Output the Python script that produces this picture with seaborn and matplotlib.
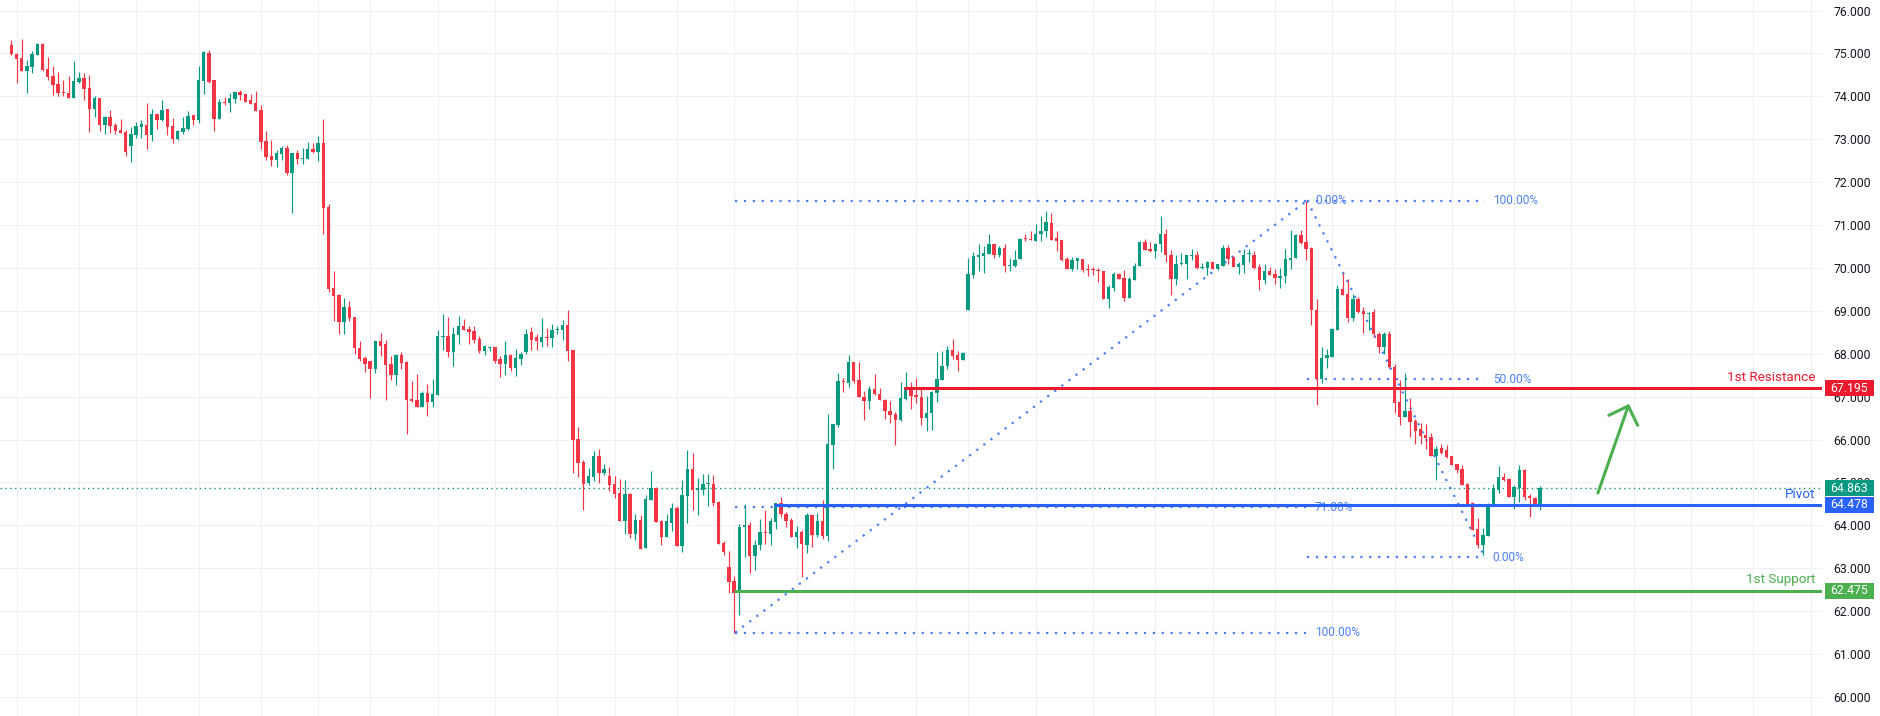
import numpy as np
import pandas as pd
import matplotlib
matplotlib.use("Agg")
import matplotlib.pyplot as plt
import matplotlib.transforms as mtransforms
from matplotlib.patches import Rectangle
import seaborn as sns

# ---------------- data ----------------
opens = [75.19, 74.98, 74.89, 74.59, 74.69, 74.97, 75.22, 74.63, 74.47, 74.28,
         74.10, 74.07, 73.96, 74.33, 74.42, 74.19, 73.71, 73.96, 73.33, 73.51,
         73.33, 73.21, 73.16, 72.84, 73.09, 73.28, 73.33, 73.09, 73.58, 73.45,
         73.70, 73.30, 73.01, 73.17, 73.23, 73.56, 73.45, 74.35, 75.01, 74.38,
         73.47, 73.87, 73.85, 73.94, 74.10, 74.05, 73.91, 73.84, 73.68, 72.96,
         72.61, 72.51, 72.65, 72.79, 72.22, 72.68, 72.54, 72.54, 72.77, 72.70,
         72.91, 71.41, 69.53, 69.37, 68.74, 69.10, 68.85, 68.13, 67.89, 67.82,
         67.64, 68.29, 68.22, 67.75, 67.50, 67.96, 67.80, 66.94, 66.91, 66.75,
         67.08, 66.87, 67.03, 68.39, 68.41, 68.03, 68.43, 68.64, 68.57, 68.52,
         68.34, 68.06, 68.13, 68.15, 67.87, 67.75, 67.96, 67.66, 67.87, 68.04,
         68.50, 68.40, 68.27, 68.39, 68.37, 68.55, 68.56, 68.66, 68.09, 66.01,
         65.47, 64.98, 65.12, 65.61, 65.22, 65.15, 64.96, 64.75, 64.10, 64.73,
         63.80, 64.12, 63.47, 64.59, 64.87, 64.10, 63.73, 64.05, 64.40, 63.52,
         64.68, 65.31, 64.82, 64.82, 64.96, 64.96, 64.54, 63.59, 63.03, 62.70,
         62.43, 63.96, 64.00, 63.29, 63.54, 63.85, 63.79, 64.08, 64.51, 64.27,
         64.12, 63.73, 63.84, 63.55, 64.25, 63.77, 64.10, 63.75, 65.87, 66.33,
         67.36, 67.32, 67.80, 67.38, 67.00, 66.90, 67.17, 67.07, 66.93, 66.66,
         66.60, 66.45, 66.94, 67.22, 67.03, 67.00, 66.49, 66.62, 67.09, 67.38,
         67.71, 68.08, 67.96, 67.86, 69.03, 69.83, 70.26, 70.27, 70.32, 70.55,
         70.30, 70.47, 70.04, 70.04, 70.20, 70.70, 70.68, 70.63, 70.78, 70.86,
         71.04, 70.70, 70.64, 70.20, 69.97, 70.15, 70.20, 69.97, 69.97, 69.96,
         69.93, 69.27, 69.53, 69.85, 69.76, 69.29, 69.71, 70.04, 70.60, 70.44,
         70.39, 70.56, 70.80, 70.31, 69.74, 70.08, 70.08, 70.28, 70.31, 69.99,
         69.99, 70.13, 69.97, 70.04, 70.46, 70.25, 70.01, 70.06, 70.32, 70.31,
         70.01, 69.71, 69.92, 69.85, 69.77, 69.80, 70.19, 70.22, 70.76, 70.60,
         70.46, 69.03, 67.42, 67.89, 67.93, 68.55, 69.50, 69.40, 68.83, 69.27,
         68.99, 68.92, 68.97, 68.47, 68.16, 68.47, 67.69, 66.88, 66.53, 66.67,
         66.44, 66.24, 66.10, 66.07, 65.62, 65.80, 65.76, 65.61, 65.43, 65.31,
         64.96, 64.53, 63.92, 63.53, 63.76, 64.45, 64.82, 65.13, 65.08, 64.67,
         64.88, 65.29, 64.69, 64.63, 64.44]

highs = [75.31, 75.00, 75.33, 74.84, 75.05, 75.24, 75.24, 74.91, 74.70, 74.56,
         74.38, 74.47, 74.82, 74.56, 74.54, 74.49, 74.00, 73.96, 73.54, 73.68,
         73.37, 73.47, 73.21, 73.28, 73.40, 73.44, 73.84, 73.70, 73.58, 73.91,
         73.70, 73.49, 73.21, 73.51, 73.65, 73.56, 74.70, 75.05, 75.08, 74.38,
         73.93, 73.98, 74.07, 74.13, 74.14, 74.05, 74.05, 74.12, 73.80, 73.19,
         72.98, 72.75, 72.84, 72.86, 72.68, 72.75, 72.79, 72.93, 72.91, 73.07,
         73.47, 71.48, 69.92, 69.39, 69.29, 69.23, 68.85, 68.29, 67.94, 67.84,
         68.29, 68.48, 68.31, 67.94, 67.99, 68.03, 67.82, 67.36, 67.52, 67.12,
         67.29, 67.40, 68.55, 68.92, 68.85, 68.62, 68.88, 68.81, 68.64, 68.64,
         68.41, 68.20, 68.17, 68.15, 67.94, 68.29, 67.99, 68.10, 68.03, 68.58,
         68.62, 68.47, 68.84, 68.60, 68.70, 68.65, 68.78, 69.01, 68.09, 66.28,
         65.52, 65.33, 65.73, 65.78, 65.43, 65.36, 65.15, 65.08, 65.05, 64.75,
         64.26, 64.24, 64.71, 65.26, 64.89, 64.12, 64.26, 64.52, 64.45, 65.05,
         65.75, 65.68, 65.10, 65.19, 65.19, 65.17, 64.56, 63.64, 63.40, 62.82,
         64.03, 64.50, 64.08, 63.66, 64.15, 64.36, 64.16, 64.51, 64.65, 64.31,
         64.16, 63.98, 63.88, 64.29, 64.25, 64.29, 64.60, 66.59, 66.37, 67.54,
         67.44, 67.96, 67.80, 67.80, 67.12, 67.24, 67.52, 67.19, 66.95, 66.89,
         66.64, 67.33, 67.57, 67.33, 67.43, 67.21, 67.02, 67.13, 68.03, 68.06,
         68.17, 68.34, 68.06, 68.04, 70.24, 70.36, 70.55, 70.52, 70.80, 70.56,
         70.52, 70.55, 70.24, 70.41, 70.70, 70.80, 70.85, 71.03, 71.20, 71.32,
         71.27, 70.85, 70.65, 70.25, 70.26, 70.22, 70.20, 70.08, 70.01, 69.99,
         69.93, 69.61, 69.90, 69.88, 69.94, 69.79, 70.12, 70.63, 70.67, 70.60,
         70.58, 71.21, 70.91, 70.42, 70.29, 70.34, 70.29, 70.43, 70.39, 70.11,
         70.16, 70.14, 70.08, 70.53, 70.53, 70.27, 70.13, 70.45, 70.43, 70.39,
         70.08, 70.08, 70.01, 69.97, 69.99, 70.45, 70.88, 70.80, 70.88, 71.57,
         70.48, 69.27, 68.16, 68.12, 68.59, 69.60, 69.87, 69.75, 69.40, 69.32,
         69.09, 68.97, 69.05, 68.51, 68.51, 68.52, 67.77, 67.38, 67.55, 66.96,
         66.47, 66.38, 66.36, 66.16, 65.86, 65.89, 65.87, 65.61, 65.44, 65.40,
         64.98, 64.55, 64.16, 63.93, 64.51, 64.96, 65.38, 65.23, 65.10, 64.94,
         65.41, 65.31, 64.73, 64.65, 64.92]

lows = [74.97, 74.32, 74.59, 74.08, 74.55, 74.96, 74.60, 74.38, 74.04, 74.00,
        74.00, 73.96, 73.96, 74.31, 73.91, 73.17, 73.52, 73.19, 73.12, 73.15,
        73.12, 73.15, 72.61, 72.47, 73.03, 73.03, 72.77, 72.96, 73.24, 73.43,
        73.09, 72.91, 72.98, 73.12, 73.21, 73.33, 73.37, 74.06, 74.32, 73.19,
        73.47, 73.80, 73.64, 73.84, 73.92, 73.86, 73.82, 73.66, 72.77, 72.51,
        72.37, 72.35, 72.51, 72.17, 71.28, 72.42, 72.42, 72.54, 72.68, 72.49,
        70.79, 69.44, 68.76, 68.45, 68.45, 68.76, 68.00, 67.82, 67.57, 66.97,
        67.54, 67.94, 66.91, 67.38, 67.26, 67.64, 66.14, 66.87, 66.75, 66.75,
        66.54, 66.75, 67.03, 68.08, 67.92, 67.71, 68.22, 68.55, 68.22, 68.24,
        68.01, 67.96, 68.06, 67.78, 67.45, 67.50, 67.59, 67.47, 67.73, 68.00,
        68.08, 68.08, 68.15, 68.17, 68.15, 68.45, 68.33, 67.83, 65.23, 65.13,
        64.36, 64.94, 65.03, 64.98, 65.17, 64.80, 64.64, 64.10, 63.80, 63.71,
        63.66, 63.45, 63.47, 64.59, 64.08, 63.54, 63.73, 63.87, 63.52, 63.38,
        64.05, 64.36, 64.24, 64.71, 64.45, 64.45, 63.57, 63.31, 62.43, 61.50,
        61.92, 63.26, 62.89, 62.96, 63.43, 63.57, 63.54, 63.91, 64.19, 63.96,
        63.73, 63.48, 62.80, 63.36, 63.50, 63.73, 63.69, 63.64, 65.32, 66.29,
        67.11, 67.23, 67.32, 66.99, 66.46, 66.71, 67.04, 66.91, 66.48, 66.39,
        65.87, 66.43, 66.91, 66.71, 66.84, 66.33, 66.20, 66.22, 66.88, 67.38,
        67.65, 67.88, 67.60, 67.85, 69.03, 69.77, 69.92, 69.87, 70.32, 70.24,
        70.25, 69.90, 69.93, 70.03, 70.20, 70.63, 70.64, 70.63, 70.63, 70.73,
        70.64, 70.39, 70.16, 69.97, 69.92, 69.97, 69.90, 69.80, 69.83, 69.66,
        69.27, 69.06, 69.46, 69.73, 69.24, 69.29, 69.71, 70.04, 70.41, 70.38,
        70.22, 70.37, 70.13, 69.38, 69.60, 70.06, 69.73, 70.18, 69.97, 69.97,
        69.83, 69.97, 69.94, 70.04, 70.08, 70.01, 69.85, 69.88, 70.13, 69.97,
        69.48, 69.62, 69.83, 69.62, 69.53, 69.64, 69.98, 70.22, 70.56, 70.18,
        68.66, 66.80, 67.31, 67.66, 67.93, 68.55, 69.37, 68.74, 68.76, 68.94,
        68.49, 68.55, 68.39, 68.02, 67.99, 67.66, 66.61, 66.34, 66.53, 66.07,
        65.89, 65.89, 65.77, 65.62, 65.06, 65.66, 65.58, 65.41, 65.21, 64.94,
        64.48, 63.89, 63.47, 63.31, 63.74, 64.45, 64.75, 65.04, 64.67, 64.37,
        64.55, 64.59, 64.20, 64.44, 64.36]

closes = [74.98, 74.88, 74.59, 74.70, 74.98, 75.22, 74.61, 74.46, 74.27, 74.08,
          74.08, 73.96, 74.35, 74.42, 74.17, 73.71, 73.96, 73.33, 73.51, 73.31,
          73.19, 73.15, 72.70, 73.11, 73.30, 73.35, 73.09, 73.58, 73.45, 73.68,
          73.28, 73.01, 73.19, 73.26, 73.54, 73.45, 74.38, 75.03, 74.33, 73.47,
          73.86, 73.85, 73.96, 74.10, 74.03, 73.87, 73.82, 73.66, 72.94, 72.59,
          72.51, 72.68, 72.79, 72.22, 72.68, 72.54, 72.56, 72.77, 72.70, 72.91,
          71.40, 69.51, 69.34, 68.74, 69.10, 68.83, 68.13, 67.87, 67.75, 67.64,
          68.29, 68.17, 67.73, 67.50, 67.96, 67.78, 66.91, 66.89, 66.75, 67.08,
          66.87, 67.05, 68.41, 68.41, 68.03, 68.45, 68.64, 68.55, 68.50, 68.31,
          68.06, 68.17, 68.15, 67.82, 67.75, 67.96, 67.66, 67.89, 68.00, 68.47,
          68.31, 68.29, 68.40, 68.37, 68.56, 68.58, 68.66, 68.06, 65.98, 65.46,
          64.96, 65.15, 65.61, 65.22, 65.31, 64.94, 64.73, 64.10, 64.73, 63.80,
          64.12, 63.45, 64.61, 64.87, 64.08, 63.73, 64.10, 64.40, 63.52, 64.71,
          65.31, 64.82, 64.87, 64.96, 64.98, 64.52, 63.57, 63.38, 62.68, 62.43,
          63.96, 64.00, 63.29, 63.54, 63.84, 63.82, 64.10, 64.51, 64.27, 64.10,
          63.73, 63.84, 63.57, 64.24, 63.77, 64.10, 63.75, 65.89, 66.36, 67.36,
          67.34, 67.80, 67.37, 66.99, 66.90, 67.17, 67.05, 66.92, 66.67, 66.57,
          66.45, 66.96, 67.22, 67.02, 67.00, 66.49, 66.62, 67.10, 67.40, 67.72,
          68.08, 67.95, 67.85, 68.01, 69.85, 70.27, 70.31, 70.34, 70.55, 70.30,
          70.47, 70.04, 70.06, 70.19, 70.68, 70.67, 70.64, 70.80, 70.87, 71.06,
          70.66, 70.63, 70.18, 69.97, 70.18, 70.22, 69.94, 69.95, 69.94, 69.93,
          69.27, 69.55, 69.85, 69.73, 69.29, 69.73, 70.05, 70.60, 70.42, 70.39,
          70.56, 70.80, 70.29, 69.74, 70.08, 70.11, 70.29, 70.30, 69.99, 70.03,
          70.13, 69.97, 70.08, 70.46, 70.20, 70.01, 70.08, 70.31, 70.35, 69.99,
          69.71, 69.92, 69.83, 69.76, 69.80, 70.20, 70.24, 70.76, 70.58, 70.43,
          69.01, 67.42, 67.91, 67.97, 68.57, 69.50, 69.38, 68.83, 69.27, 68.97,
          68.92, 68.96, 68.47, 68.16, 68.47, 67.68, 66.86, 66.53, 66.67, 66.41,
          66.21, 66.09, 66.03, 65.62, 65.79, 65.68, 65.60, 65.41, 65.29, 64.94,
          64.50, 63.89, 63.53, 63.78, 64.50, 64.86, 65.13, 65.06, 64.67, 64.90,
          65.29, 64.67, 64.63, 64.44, 64.863]

price_ticks = list(range(60, 77))
time_grid_idx = [1, 13, 24, 36, 48, 59, 69, 82, 93, 105, 116, 128, 139, 151,
                 162, 174, 184, 197, 208, 220, 231, 243, 254, 266, 277, 289,
                 300, 312, 323, 335, 346]

level_names = ["1st Resistance", "Pivot", "1st Support"]
level_values = [67.195, 64.478, 62.475]
level_starts = [171.7, 146.7, 139.0]
last_price = 64.863

fib1_start = (139.2, 61.50)
fib1_end = (249.2, 71.57)
fib1_levels = [0.0, 0.71, 1.0]
fib1_labels = ["0.00%", "71.00%", "100.00%"]

fib2_start = (249.2, 71.57)
fib2_end = (283.4, 63.25)
fib2_levels = [1.0, 0.5, 0.0]
fib2_labels = ["100.00%", "50.00%", "0.00%"]

arrow_from = (305.1, 64.75)
arrow_to = (311.1, 66.83)

# ---------------- style ----------------
UP = "#089981"
DOWN = "#f23645"
RES_C = "#ec1a2e"
PIV_C = "#2962ff"
SUP_C = "#4caf50"
FIB_C = "#4a80f6"
GRID_C = "#eff0f3"
TXT_C = "#131722"
level_colors = [RES_C, PIV_C, SUP_C]

sns.set_theme(style="white")
plt.rcParams["font.family"] = ["Roboto", "DejaVu Sans"]

W, H = 1880, 716
AX_W = 1822
fig = plt.figure(figsize=(W / 100, H / 100), dpi=100)
ax = fig.add_axes([0, 0, AX_W / W, 1])

px_per_idx = 5.2
x0_px = 11.3
xmin = -x0_px / px_per_idx
xmax = xmin + AX_W / px_per_idx
ymin, ymax = 59.555, 76.245
ax.set_xlim(xmin, xmax)
ax.set_ylim(ymin, ymax)
px_per_price = H / (ymax - ymin)

df = pd.DataFrame({"open": opens, "high": highs, "low": lows, "close": closes})
df["idx"] = np.arange(len(df))
df["up"] = df["close"] >= df["open"]
colors = np.where(df["up"], UP, DOWN)
body_bottom = np.minimum(df["open"], df["close"])
body_h = np.maximum((df["close"] - df["open"]).abs(), 1.0 / px_per_price)

# grid
for gx in time_grid_idx:
    ax.axvline(gx, color=GRID_C, lw=0.8, zorder=0)
for gy in price_ticks:
    ax.axhline(gy, color=GRID_C, lw=0.8, zorder=0)

# fib drawings
fib_dash = (0, (1, 3))
def draw_fib(start, end, levels, labels):
    xa, pa = start
    xb, pb = end
    sns.lineplot(x=[xa, xb], y=[pa, pb], ax=ax, color=FIB_C, lw=1.6,
                 linestyle=fib_dash, zorder=1.5, legend=False)
    for lv, lb in zip(levels, labels):
        p = pb + lv * (pa - pb)
        ax.plot([xa, xb], [p, p], color=FIB_C, lw=1.6, linestyle=fib_dash, zorder=1.5)
        ax.text(xb + 1.5, p, lb, color=FIB_C, fontsize=8.6, va="center", ha="left", zorder=1.6)

draw_fib(fib1_start, fib1_end, fib1_levels, fib1_labels)
draw_fib(fib2_start, fib2_end, fib2_levels, fib2_labels)

# candles
ax.vlines(df["idx"], df["low"], df["high"], colors=colors, lw=0.85, zorder=3)
ax.bar(df["idx"], body_h, bottom=body_bottom, width=0.62, color=colors,
       linewidth=0, zorder=3.1)

# current price dotted line
ax.axhline(last_price, color=UP, lw=1.0, linestyle=(0, (1, 2.5)), zorder=2)

# support / resistance levels
for name, val, st, col in zip(level_names, level_values, level_starts, level_colors):
    ax.plot([st, xmax], [val, val], color=col, lw=2.2, zorder=4, solid_capstyle="butt")
    ax.text(xmin + 1815 / px_per_idx, val + 7.3 / px_per_price, name, color=col,
            fontsize=9.7, ha="right", va="baseline", zorder=5)

# arrow
ax.annotate("", xy=arrow_to, xytext=arrow_from,
            arrowprops=dict(arrowstyle="->,head_length=0.55,head_width=0.55",
                            color=SUP_C, lw=2.2, mutation_scale=20,
                            shrinkA=0, shrinkB=0), zorder=5)

# right price axis
ax.yaxis.tick_right()
ax.set_yticks(price_ticks)
ax.set_yticklabels([f"{t:.3f}" for t in price_ticks])
ax.tick_params(axis="y", length=0, pad=8, labelsize=8.8, labelcolor=TXT_C)
ax.set_xticks([])
for s in ax.spines.values():
    s.set_visible(False)
ax.grid(False)

# price boxes on the axis (drawn over the tick labels they cover)
blend = mtransforms.blended_transform_factory(ax.transAxes, ax.transData)
box_vals = [level_values[0], last_price, level_values[1], level_values[2]]
box_cols = [RES_C, UP, PIV_C, SUP_C]
box_h = 16.4 / px_per_price
bx0 = 1825 / AX_W
bw = 49 / AX_W
for v, c in zip(box_vals, box_cols):
    ax.add_patch(Rectangle((bx0, v - box_h / 2), bw, box_h, transform=blend,
                           facecolor=c, edgecolor="none", clip_on=False, zorder=10))
    ax.text(bx0 + bw / 2, v, f"{v:.3f}", transform=blend, color="white",
            fontsize=8.8, ha="center", va="center", zorder=11, clip_on=False)

fig.savefig("out.png", dpi=100, facecolor="white")
